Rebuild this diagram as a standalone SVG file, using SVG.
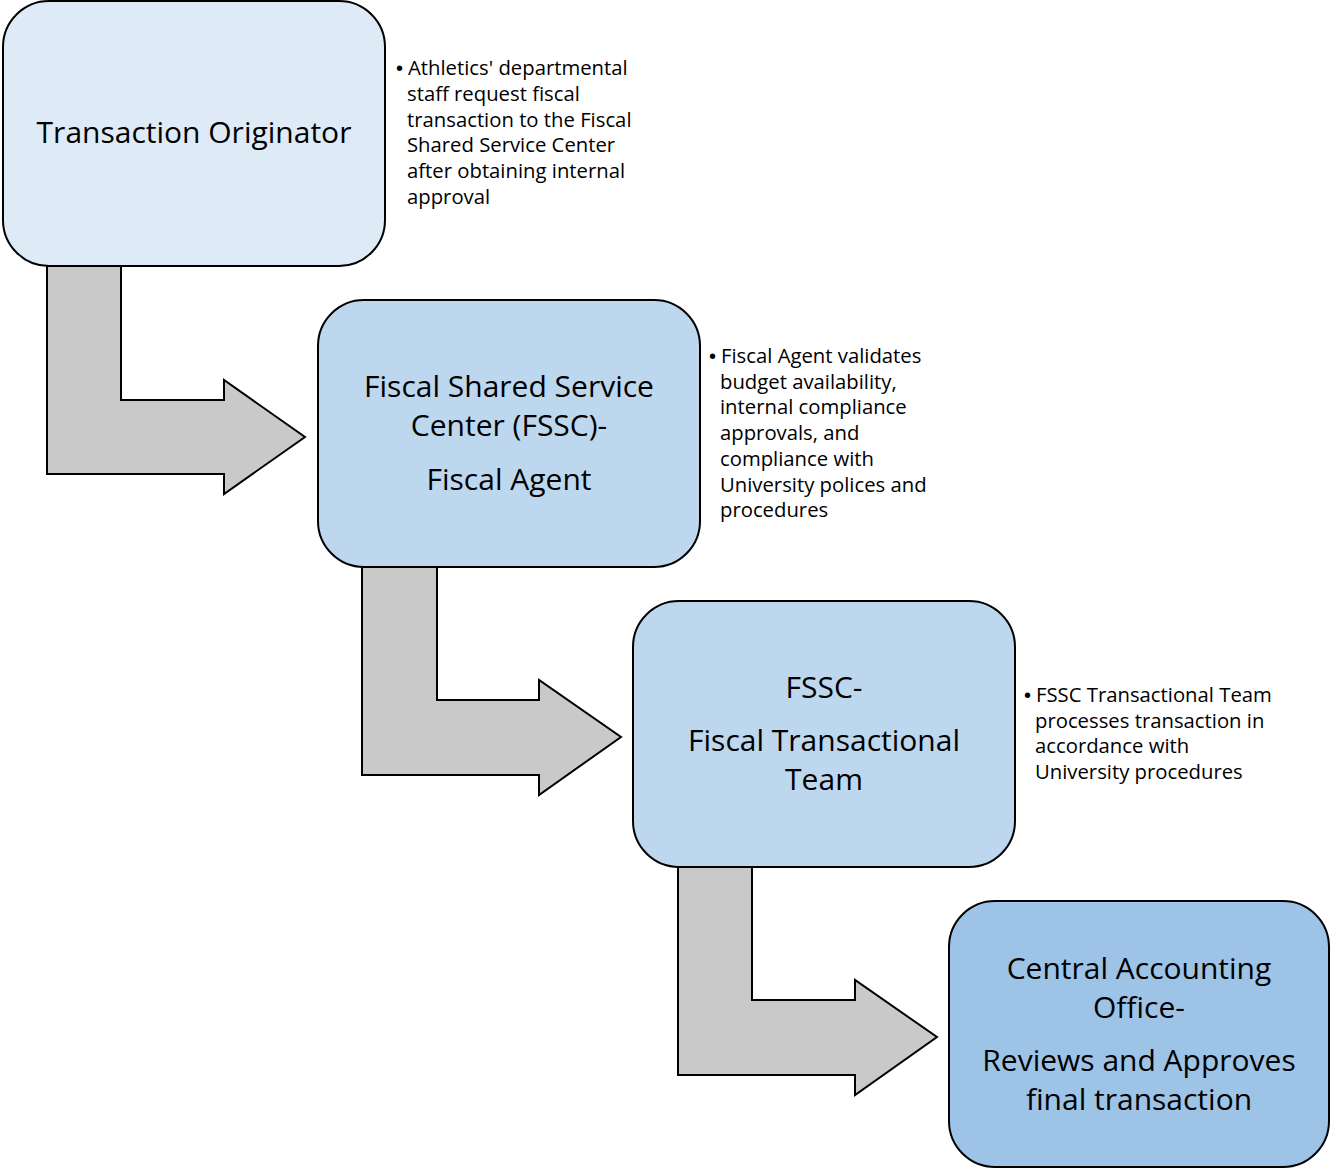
<svg xmlns="http://www.w3.org/2000/svg" width="1330" height="1169" viewBox="0 0 1330 1169">
<style>
.box{stroke:#000;stroke-width:2}
.arr{fill:#c9c9c9;stroke:#000;stroke-width:2;stroke-linejoin:miter}
.t{font-family:"Open Sans","Noto Sans",sans-serif;font-size:30px;fill:#000;text-anchor:middle}
.n{font-family:"Open Sans","Noto Sans",sans-serif;font-size:20.3px;fill:#000}
.b{font-family:"Liberation Sans",sans-serif;font-size:20px;fill:#000}
</style>
<rect width="1330" height="1169" fill="#fff"/>
<g id="connectors">
<polygon class="arr" points="47,266 121,266 121,400 224,400 224,380 305,437 224,494 224,474 47,474"/>
<polygon class="arr" points="362,567 437,567 437,700 539,700 539,680 621,737 539,795 539,775 362,775"/>
<polygon class="arr" points="678,867 752,867 752,1000 855,1000 855,980 937,1037 855,1095 855,1075 678,1075"/>
</g>
<g id="node1">
<rect class="box" x="3" y="1" width="382" height="265" rx="46" fill="#deeaf6"/>
<text class="t" x="194" y="143">Transaction Originator</text>
</g>
<g id="note1">
<text class="b" x="396" y="75">•</text>
<text class="n" y="75"><tspan x="408">Athletics' departmental</tspan><tspan x="407" dy="25.8">staff request fiscal</tspan><tspan x="407" dy="25.8">transaction to the Fiscal</tspan><tspan x="407" dy="25.8">Shared Service Center</tspan><tspan x="407" dy="25.8">after obtaining internal</tspan><tspan x="407" dy="25.8">approval</tspan></text>
</g>
<g id="node2">
<rect class="box" x="318" y="300" width="382" height="267" rx="46" fill="#bdd7ee"/>
<text class="t" x="509" y="397">Fiscal Shared Service</text>
<text class="t" x="509" y="436">Center (FSSC)-</text>
<text class="t" x="509" y="490">Fiscal Agent</text>
</g>
<g id="note2">
<text class="b" x="709" y="363">•</text>
<text class="n" y="363"><tspan x="721">Fiscal Agent validates</tspan><tspan x="720" dy="25.7">budget availability,</tspan><tspan x="720" dy="25.7">internal compliance</tspan><tspan x="720" dy="25.7">approvals, and</tspan><tspan x="720" dy="25.7">compliance with</tspan><tspan x="720" dy="25.7">University polices and</tspan><tspan x="720" dy="25.7">procedures</tspan></text>
</g>
<g id="node3">
<rect class="box" x="633" y="601" width="382" height="266" rx="46" fill="#bdd7ee"/>
<text class="t" x="824" y="698">FSSC-</text>
<text class="t" x="824" y="751">Fiscal Transactional</text>
<text class="t" x="824" y="790">Team</text>
</g>
<g id="note3">
<text class="b" x="1024" y="702">•</text>
<text class="n" y="702"><tspan x="1036">FSSC Transactional Team</tspan><tspan x="1035" dy="25.7">processes transaction in</tspan><tspan x="1035" dy="25.7">accordance with</tspan><tspan x="1035" dy="25.7">University procedures</tspan></text>
</g>
<g id="node4">
<rect class="box" x="949" y="901" width="380" height="266" rx="46" fill="#9dc3e6"/>
<text class="t" x="1139" y="979">Central Accounting</text>
<text class="t" x="1139" y="1018">Office-</text>
<text class="t" x="1139" y="1071">Reviews and Approves</text>
<text class="t" x="1139" y="1110">final transaction</text>
</g>
</svg>
